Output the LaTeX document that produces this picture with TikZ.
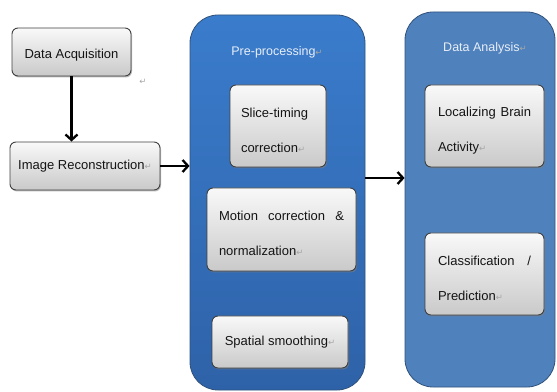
\documentclass[tikz,border=0pt]{standalone}
\usepackage{fontspec}
\setmainfont{Liberation Sans}
\newfontfamily\markfont{DejaVu Sans}
\usetikzlibrary{arrows.meta,shadows}
\definecolor{preblue}{RGB}{58,124,204}
\definecolor{predark}{RGB}{46,98,168}
\definecolor{anablue}{RGB}{79,129,189}
\definecolor{panelline}{RGB}{48,82,124}
\definecolor{titletext}{RGB}{232,238,248}
\newcommand{\ret}{{\color{gray!70}\markfont\fontsize{8.5}{35}\selectfont ↵}}
\newcommand{\topgap}[1]{\rule{0pt}{#1pt}}
\hyphenpenalty=10000
\begin{document}
\begin{tikzpicture}[x=1pt,y=1pt,
		stepbox/.style={draw=black!75,line width=.9pt,rounded corners=6pt,
			top color=gray!5,bottom color=gray!42,
			drop shadow={shadow xshift=1pt,shadow yshift=-1.5pt,opacity=.55},
			font=\fontsize{13}{35}\selectfont,text=black!92,inner sep=0pt},
		panel/.style={draw=panelline,line width=.8pt,rounded corners=28pt,
			minimum height=375pt},
		title/.style={font=\fontsize{12.5}{15}\selectfont,text=titletext},
		flow/.style={-{Straight Barb[length=5.5pt,width=12pt]},line width=2.3pt}]
	\useasboundingbox (0,0) rectangle (557,391);
	\node[panel,minimum width=175pt,top color=preblue,bottom color=predark] (pre) at (277.5,188.5) {};
	\node[panel,minimum width=150pt,fill=anablue] (ana) at (480,191.5) {};
	\node[title] (pretitle) at (277,339) {Pre-processing\ret};
	\node[title] (anatitle) at (485,343) {Data Analysis\ret};
	\node[stepbox,minimum width=119pt,minimum height=48pt] (acq) at (71.5,339) {\topgap{15}Data Acquisition};
	\node (acqret) at (143,309) {\ret};
	\node[stepbox,minimum width=150pt,minimum height=48pt] (recon) at (85,225) {Image Reconstruction\ret};
	\node[stepbox,minimum width=96pt,minimum height=82pt,text width=74pt,align=left] (slice) at (278,265)
		{\topgap{18}Slice-timing\\correction\ret};
	\node[stepbox,minimum width=149pt,minimum height=83pt,text width=125pt,align=justify] (motion) at (281.5,161.5)
		{\topgap{17}Motion correction \& normalization\ret};
	\node[stepbox,minimum width=136pt,minimum height=52pt] (smooth) at (280,49) {Spatial smoothing\ret};
	\node[stepbox,minimum width=119pt,minimum height=82pt,text width=93pt,align=justify] (brain) at (484.5,265)
		{\topgap{19}Localizing Brain Activity\ret};
	\node[stepbox,minimum width=119pt,minimum height=82pt,text width=93pt,align=justify] (classify) at (484.5,117)
		{\topgap{18}Classification / Prediction\ret};
	\coordinate (mid) at (0,213);
	\draw[flow] (acq.south) -- (acq.south |- recon.north);
	\draw[flow] (recon.east) -- (recon.east -| pre.west);
	\draw[flow] (pre.east |- mid) -- (ana.west |- mid);
\end{tikzpicture}
\end{document}
